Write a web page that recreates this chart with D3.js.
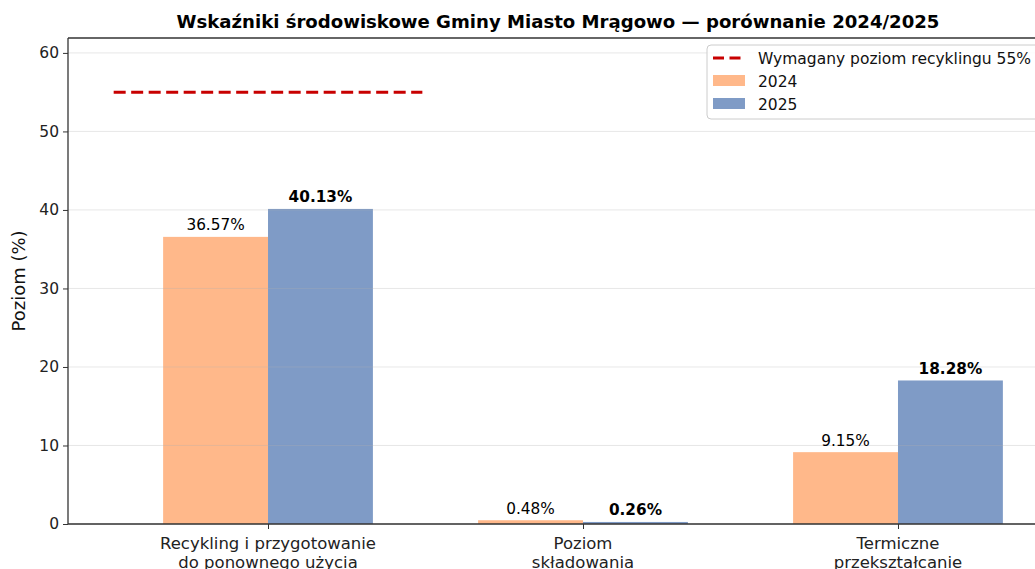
<!DOCTYPE html>
<html><head><meta charset="utf-8">
<script src="https://cdn.jsdelivr.net/npm/d3@7"></script>
<style>body{margin:0;background:#fff}svg{display:block;font-family:"DejaVu Sans",sans-serif}</style>
</head><body><svg id="c" width="1035" height="569"></svg>
<script>
const categories = [["Recykling i przygotowanie","do ponownego użycia"],["Poziom","składowania"],["Termiczne","przekształcanie"]];
const series2024 = [36.57, 0.48, 9.15];
const series2025 = [40.13, 0.26, 18.28];
const yTicks = [0, 10, 20, 30, 40, 50, 60];
const requiredLevel = 55;
const seriesNames = ["2024", "2025"];
const titleText = "Wskaźniki środowiskowe Gminy Miasto Mrągowo — porównanie 2024/2025";
const yLabel = "Poziom (%)";
const legendLine = "Wymagany poziom recyklingu 55%";

const svg = d3.select("#c");
const L = 68, T = 38, B = 524, R = 1098;
const x = d3.scaleLinear().domain([-0.635, 2.635]).range([L, R]);
const y = d3.scaleLinear().domain([0, 61.9]).range([B, T]);
const bw = 0.333;
const colors = ["#ffb88a", "#7f9bc6"];

// bars
const data = [series2024, series2025];
data.forEach((s, si) => {
  svg.append("g").selectAll("rect").data(s).join("rect")
    .attr("x", (d,i)=>x(i + (si-1)*bw))
    .attr("width", x(bw)-x(0))
    .attr("y", d=>y(d)).attr("height", d=>y(0)-y(d))
    .attr("fill", colors[si]);
});

// grid (above bars, translucent)
svg.append("g").selectAll("line").data(yTicks).join("line")
  .attr("x1", L).attr("x2", R).attr("y1", d=>y(d)).attr("y2", d=>y(d))
  .attr("stroke", "#b0b0b0").attr("stroke-opacity", 0.3).attr("stroke-width", 1);

data.forEach((s, si) => {
  svg.append("g").selectAll("text").data(s).join("text")
    .attr("x", (d,i)=>x(i + (si-0.5)*bw))
    .attr("y", d=>y(d)-6.5)
    .attr("text-anchor","middle")
    .attr("font-size", 15.3)
    .attr("font-weight", si===1 ? "bold" : "normal")
    .attr("fill","#000")
    .text(d=>d.toFixed(2)+"%");
});

// required line
svg.append("line")
  .attr("x1", x(-0.49)).attr("x2", x(0.49))
  .attr("y1", y(requiredLevel)).attr("y2", y(requiredLevel))
  .attr("stroke", "#c80000").attr("stroke-width", 3)
  .attr("stroke-dasharray", "12,5.5");

// axes
const ya = d3.axisLeft(y).tickValues(yTicks).tickSize(5).tickPadding(4);
const yg = svg.append("g").attr("transform",`translate(${L},0)`).call(ya);
yg.select(".domain").remove();
yg.selectAll("text").attr("font-size", 15.5).attr("fill","#222").attr("font-family","DejaVu Sans");
yg.selectAll("line").attr("stroke","#333");

const xa = d3.axisBottom(x).tickValues([0,1,2]).tickSize(5).tickFormat("");
const xg = svg.append("g").attr("transform",`translate(0,${B})`).call(xa);
xg.select(".domain").remove();
xg.selectAll("line").attr("stroke","#333");
categories.forEach((c,i)=>{
  const t = svg.append("text").attr("x", x(i)).attr("y", B+25).attr("text-anchor","middle")
    .attr("font-size",16.5).attr("fill","#222");
  c.forEach((ln,j)=>t.append("tspan").attr("x", x(i)).attr("dy", j===0?0:18.5).text(ln));
});

// spines
svg.append("line").attr("x1",L).attr("x2",L).attr("y1",T).attr("y2",B).attr("stroke","#333").attr("stroke-width",1.3);
svg.append("line").attr("x1",L).attr("x2",R).attr("y1",B).attr("y2",B).attr("stroke","#333").attr("stroke-width",1.3);
svg.append("line").attr("x1",L).attr("x2",R).attr("y1",T).attr("y2",T).attr("stroke","#333").attr("stroke-width",1.3);

// y label
svg.append("text").attr("transform",`translate(25,${(T+B)/2}) rotate(-90)`).attr("text-anchor","middle")
  .attr("font-size",18).attr("fill","#111").text(yLabel);

// title
svg.append("text").attr("x",558).attr("y",28).attr("text-anchor","middle")
  .attr("font-size",18.1).attr("font-weight","bold").attr("fill","#000").text(titleText);

// legend
const lg = svg.append("g");
lg.append("rect").attr("x",707).attr("y",45).attr("width",360).attr("height",74).attr("rx",4)
  .attr("fill","#fff").attr("fill-opacity",0.85).attr("stroke","#ccc");
lg.append("line").attr("x1",713).attr("x2",745).attr("y1",58).attr("y2",58)
  .attr("stroke","#c80000").attr("stroke-width",3).attr("stroke-dasharray","11,5.5");
seriesNames.forEach((n,i)=>{
  lg.append("rect").attr("x",713).attr("y",75+i*23).attr("width",32).attr("height",11).attr("fill",colors[i]);
});
[legendLine, ...seriesNames].forEach((t,i)=>{
  lg.append("text").attr("x",758).attr("y",63.5+i*23).attr("font-size",15.5).attr("fill","#111").text(t);
});
</script></body></html>
